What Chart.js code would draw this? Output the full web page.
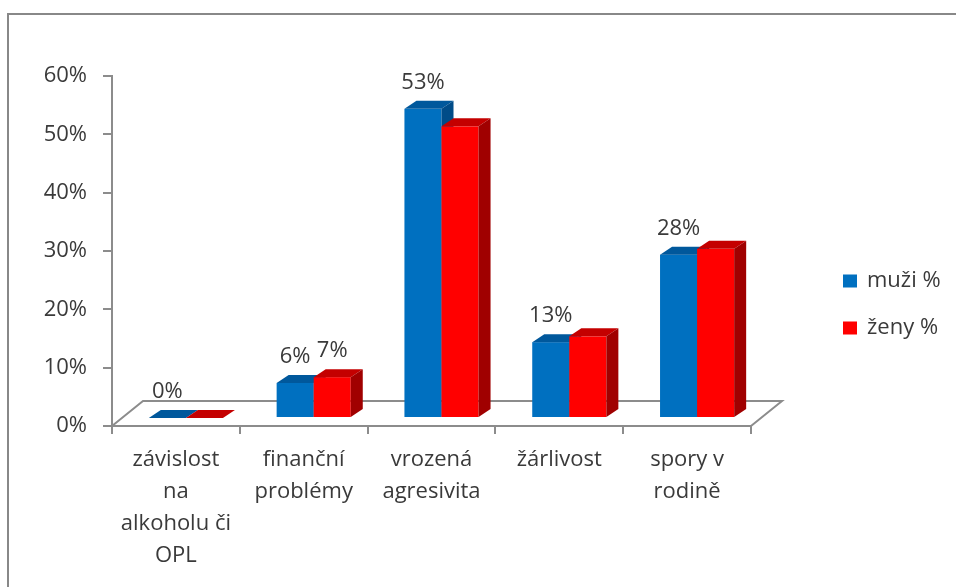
<!DOCTYPE html>
<html>
<head>
<meta charset="utf-8">
<script src="https://cdn.jsdelivr.net/npm/chart.js@4.4.1/dist/chart.umd.min.js"></script>
<style>
  html, body { margin: 0; padding: 0; background: #fff; overflow: hidden; }
  #wrap { position: relative; width: 956px; height: 587px; }
</style>
</head>
<body>
<div id="wrap"><canvas id="chart"></canvas></div>
<script>
// ---- data ----
const categories = [
    ['závislost', 'na', 'alkoholu či', 'OPL'],
    ['finanční', 'problémy'],
    ['vrozená', 'agresivita'],
    ['žárlivost'],
    ['spory v', 'rodině']
];
const seriesNames = ['muži %', 'ženy %'];
const muzi = [0, 6, 53, 13, 28];
const zeny = [0, 7, 50, 14, 29];
const yTicks = [0, 10, 20, 30, 40, 50, 60];
// the original only labelled these points
const showMuzi = [true, true, true, true, true];
const showZeny = [false, true, false, false, false];

// ---- look ----
const FONT = "'Open Sans', 'Noto Sans', sans-serif";
const TEXT = '#3a3a3a';
const AXIS = '#8c8c8c';
const faces = [
    { front: '#0070c0', top: '#00589c', side: '#004c88' },
    { front: '#ff0000', top: '#c40000', side: '#a00000' }
];
const FLOOR = { dx: 31, dy: -25 };   // depth of the 3d floor
const SHIFT = { dx: 10, dy: -8 };    // bars stand a bit back on the floor
const DEPTH = { dx: 12, dy: -8 };    // depth of a bar

function poly(ctx, pts, fill) {
    ctx.beginPath();
    ctx.moveTo(pts[0][0], pts[0][1]);
    for (let k = 1; k < pts.length; k++) ctx.lineTo(pts[k][0], pts[k][1]);
    ctx.closePath();
    ctx.fillStyle = fill;
    ctx.fill();
}

const bars3d = {
    id: 'bars3d',
    beforeDraw(chart) {
        // the grey frame of the original picture (cut at right and bottom)
        const ctx = chart.ctx;
        ctx.save();
        ctx.fillStyle = '#888';
        ctx.fillRect(7, 13, chart.width, 2);
        ctx.fillRect(7, 13, 2, chart.height);
        ctx.restore();
    },
    beforeDatasetsDraw(chart) {
        const { ctx, chartArea: a, scales: { y } } = chart;
        const y0 = y.getPixelForValue(0);

        ctx.save();
        // floor
        ctx.strokeStyle = AXIS;
        ctx.lineWidth = 2;
        ctx.beginPath();
        ctx.moveTo(a.left, y0);
        ctx.lineTo(a.left + FLOOR.dx, y0 + FLOOR.dy);
        ctx.lineTo(a.right + FLOOR.dx, y0 + FLOOR.dy);
        ctx.lineTo(a.right, y0);
        ctx.stroke();

        // bars, category by category so the red one covers the blue side
        const metas = [chart.getDatasetMeta(0), chart.getDatasetMeta(1)];
        const tops = [[], []];
        for (let i = 0; i < categories.length; i++) {
            metas.forEach((meta, d) => {
                const el = meta.data[i];
                const p = el.getProps(['x', 'y', 'base', 'width'], true);
                const l = p.x - p.width / 2 + SHIFT.dx;
                const r = p.x + p.width / 2 + SHIFT.dx;
                const t = p.y + SHIFT.dy;
                const b = p.base + SHIFT.dy;
                const f = faces[d];
                ctx.fillStyle = f.front;
                ctx.fillRect(l, t, r - l, b - t);
                poly(ctx, [[l, t], [l + DEPTH.dx, t + DEPTH.dy], [r + DEPTH.dx, t + DEPTH.dy], [r, t]], f.top);
                poly(ctx, [[r, t], [r + DEPTH.dx, t + DEPTH.dy], [r + DEPTH.dx, b + DEPTH.dy], [r, b]], f.side);
                tops[d][i] = { x: (l + r) / 2, y: t };
            });
        }

        // value labels
        ctx.font = '22px ' + FONT;
        ctx.fillStyle = TEXT;
        ctx.textAlign = 'center';
        ctx.textBaseline = 'middle';
        [[muzi, showMuzi], [zeny, showZeny]].forEach(([vals, show], d) => {
            vals.forEach((v, i) => {
                if (!show[i]) return;
                ctx.fillText(v + '%', tops[d][i].x, tops[d][i].y - 26);
            });
        });
        ctx.restore();
        return false;
    },
    afterDraw(chart) {
        // legend at the right, as in the original
        const ctx = chart.ctx;
        ctx.save();
        ctx.font = '22px ' + FONT;
        ctx.textBaseline = 'middle';
        ctx.textAlign = 'left';
        chart.data.datasets.forEach((ds, d) => {
            const cy = 281 + d * 47;
            ctx.fillStyle = ds.backgroundColor;
            ctx.fillRect(843, cy - 6.5, 14, 13);
            ctx.fillStyle = TEXT;
            ctx.fillText(ds.label, 867, cy);
        });
        ctx.restore();
    }
};

new Chart(document.getElementById('chart'), {
    type: 'bar',
    data: {
        labels: categories,
        datasets: [
            { label: seriesNames[0], data: muzi, backgroundColor: faces[0].front },
            { label: seriesNames[1], data: zeny, backgroundColor: faces[1].front }
        ]
    },
    options: {
        responsive: true,
        maintainAspectRatio: false,
        animation: false,
        events: [],
        layout: { padding: { top: 76, right: 205, bottom: 0, left: 0 } },
        datasets: { bar: { categoryPercentage: 0.58, barPercentage: 1 } },
        plugins: {
            legend: { display: false },
            tooltip: { enabled: false }
        },
        scales: {
            x: {
                offset: true,
                grid: { offset: true, drawOnChartArea: false, drawTicks: true, tickLength: 8, color: AXIS, lineWidth: 2 },
                border: { color: AXIS, width: 2 },
                ticks: { color: TEXT, font: { family: FONT, size: 22, lineHeight: 1.45 }, padding: 10, maxRotation: 0, autoSkip: false },
                afterFit(s) { s.height = 161; }
            },
            y: {
                min: 0,
                max: 60,
                afterBuildTicks(s) { s.ticks = yTicks.map(v => ({ value: v })); },
                grid: { drawOnChartArea: false, drawTicks: true, tickLength: 9, color: AXIS, lineWidth: 2 },
                border: { color: AXIS, width: 2 },
                ticks: { color: TEXT, font: { family: FONT, size: 22 }, padding: 16, callback: v => v + '%' },
                afterFit(s) { s.width = 112; }
            }
        }
    },
    plugins: [bars3d]
});
</script>
</body>
</html>
